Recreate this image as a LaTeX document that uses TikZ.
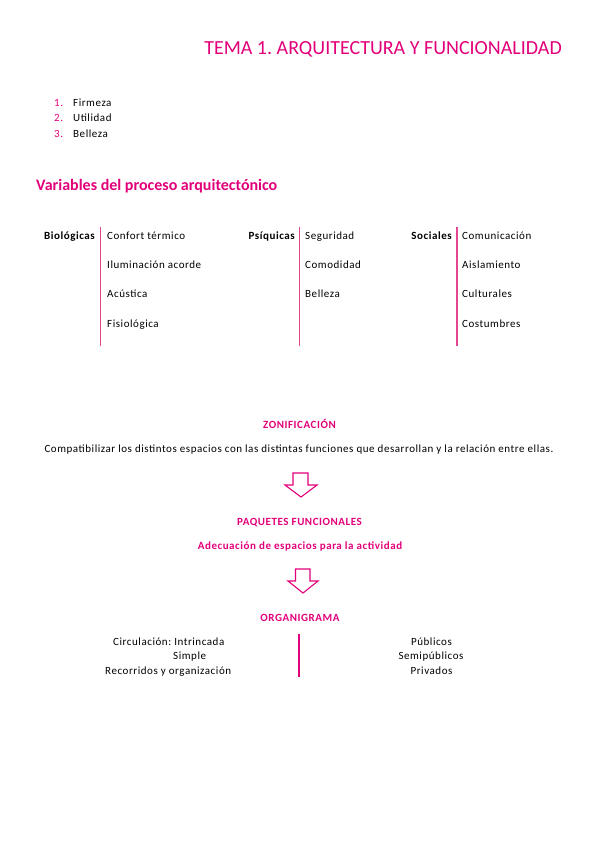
\documentclass[tikz,border=0pt]{standalone}
\usepackage{fontspec}
\setmainfont{Carlito}
\newfontfamily\bodyfont{Carlito}[LetterSpace=5]
\definecolor{pk}{RGB}{226,0,122}
\definecolor{pkline}{RGB}{228,70,145}
\frenchspacing
\begin{document}
\begin{tikzpicture}[x=1pt,y=-1pt,
  txt/.style={inner sep=0pt,font=\bodyfont\fontsize{11}{13}\selectfont},
  lw/.style={txt,anchor=base west},
  le/.style={txt,anchor=base east},
  lc/.style={txt,anchor=base},
  pkb/.style={text=pk,font=\bodyfont\fontsize{11}{13}\selectfont\bfseries},
  hb/.style={font=\bodyfont\fontsize{11}{13}\selectfont\bfseries},
  vline/.style={draw=pkline,line width=1.3pt},
  blockarrow/.style={draw=pk,line width=1.1pt,line join=miter}]
\useasboundingbox (0,0) rectangle (599,848);
% title
\node[inner sep=0pt,anchor=base east,text=pk,font=\fontsize{20}{24}\selectfont] (title) at (562,55) {TEMA 1. ARQUITECTURA Y FUNCIONALIDAD};
% list
\node[lw,text=pk] (n1) at (54,106.5) {1.};
\node[lw,text=pk] (n2) at (54,121.5) {2.};
\node[lw,text=pk] (n3) at (54,137) {3.};
\node[lw] (l1) at (73,106.5) {Firmeza};
\node[lw] (l2) at (73,121.5) {Utilidad};
\node[lw] (l3) at (73,137) {Belleza};
% heading
\node[inner sep=0pt,anchor=base west,text=pk,font=\fontsize{16}{19}\selectfont\bfseries] (vars) at (36,190.5) {Variables del proceso arquitectónico};
% table
\node[le,hb] (bio) at (95,239) {Biológicas};
\coordinate (b1) at (100.5,227); \coordinate (b2) at (100.5,346);
\draw[vline] (b1) -- (b2);
\node[lw] (bio1) at (107,239) {Confort térmico};
\node[lw] (bio2) at (107,268) {Iluminación acorde};
\node[lw] (bio3) at (107,297.5) {Acústica};
\node[lw] (bio4) at (107,327.5) {Fisiológica};
\node[le,hb] (psi) at (295,239) {Psíquicas};
\coordinate (p1) at (299.8,227); \coordinate (p2) at (299.8,346);
\draw[vline] (p1) -- (p2);
\node[lw] (psi1) at (305,239) {Seguridad};
\node[lw] (psi2) at (305,268) {Comodidad};
\node[lw] (psi3) at (305,297.5) {Belleza};
\node[le,hb] (soc) at (452,239) {Sociales};
\coordinate (s1) at (457,227); \coordinate (s2) at (457,346);
\draw[vline] (s1) -- (s2);
\node[lw] (soc1) at (462,239) {Comunicación};
\node[lw] (soc2) at (462,268) {Aislamiento};
\node[lw] (soc3) at (462,297.5) {Culturales};
\node[lw] (soc4) at (462,327.5) {Costumbres};
% zonificacion
\node[lc,pkb] (zon) at (299.5,428) {ZONIFICACIÓN};
\node[lc] (comp) at (299,452.5) {Compatibilizar los distintos espacios con las distintas funciones que desarrollan y la relación entre ellas.};
\draw[blockarrow] (293,473) -- (308,473) -- (308,485) -- (317,485) -- (301,497) -- (285,485) -- (293,485) -- cycle;
\node[lc,pkb] (paq) at (299.5,525) {PAQUETES FUNCIONALES};
\node[lc,pkb] (adec) at (300,549) {Adecuación de espacios para la actividad};
\draw[blockarrow] (295.5,569) -- (310,569) -- (310,581) -- (318,581) -- (303,593) -- (288,581) -- (295.5,581) -- cycle;
\node[lc,pkb] (org) at (300,621) {ORGANIGRAMA};
\coordinate (o1) at (299,634); \coordinate (o2) at (299,677);
\draw[draw=pk,line width=1.1pt] (o1) -- (o2);
\node[lw] (c1) at (113,645) {Circulación: Intrincada};
\node[lw] (c2) at (173,659.5) {Simple};
\node[lw] (c3) at (105,674) {Recorridos y organización};
\node[lc] (r1) at (431.5,645) {Públicos};
\node[lc] (r2) at (431,659.5) {Semipúblicos};
\node[lc] (r3) at (431.5,674) {Privados};
\end{tikzpicture}
\end{document}
